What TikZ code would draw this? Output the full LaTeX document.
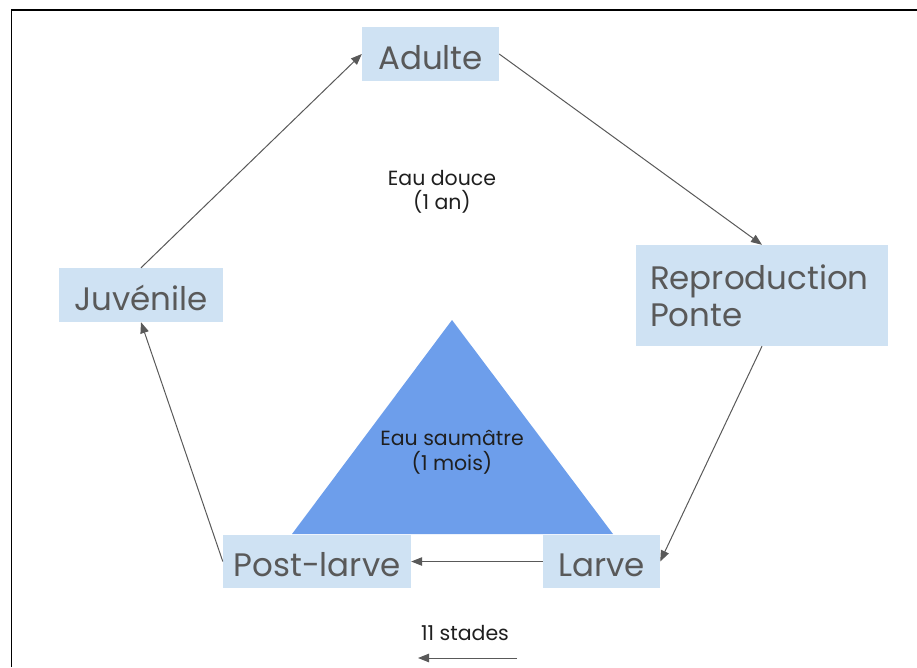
\documentclass[tikz,border=0pt]{standalone}
\usepackage{fontspec}
\setmainfont{Poppins}
\usetikzlibrary{arrows.meta}
\definecolor{boxfill}{HTML}{CFE2F3}
\definecolor{tri}{HTML}{6D9EEB}
\definecolor{txt}{HTML}{595959}
\definecolor{arr}{HTML}{595959}
\begin{document}
\begin{tikzpicture}[x=1pt,y=-1pt,
  stagebox/.style={fill=boxfill, draw=none, text=txt, font=\fontsize{32.5}{37}\selectfont, inner sep=0pt, anchor=center},
  oneline/.style={text height=30pt, text depth=0pt},
  conn/.style={draw=arr, line width=1pt, -{Triangle[length=11pt,width=8.5pt]}},
  note/.style={font=\fontsize{20.5}{24.5}\selectfont, text=black!88, align=center}]
\useasboundingbox (0,0) rectangle (917,667);
\draw[line width=1.5pt] (11.5,667) -- (11.5,10) -- (917,10);
% triangle
\path[fill=tri] (452,320) -- (292,534) -- (613,534) -- cycle;
\node[note] (sal) at (452,452) {Eau saumâtre\\(1 mois)};
\node[note] (douce) at (442,192) {Eau douce\\(1 an)};
% stages
\node[stagebox, oneline, minimum width=137pt, minimum height=54pt] (adulte) at (430.5,54) {Adulte};
\node[stagebox, minimum width=252pt, minimum height=101pt, text width=224pt, align=left] (repro) at (762,295.5) {Reproduction\\Ponte};
\node[stagebox, oneline, minimum width=164pt, minimum height=54pt] (juv) at (141,295) {Juvénile};
\node[stagebox, oneline, minimum width=188pt, minimum height=53pt] (post) at (317,561.5) {Post-larve};
\node[stagebox, oneline, minimum width=117pt, minimum height=53pt] (larve) at (601.5,561.5) {Larve};
% connectors
\draw[conn] (juv.north) -- (adulte.west);
\draw[conn] (adulte.east) -- (repro.north);
\draw[conn] (repro.south) -- (larve.east);
\draw[conn] (larve.west) -- (post.east);
\draw[conn] (post.west) -- (juv.south);
% legend
\node[note] (stades) at (465,633) {11 stades};
\coordinate (s1) at (517,658);
\coordinate (s2) at (418,658);
\draw[conn] (s1) -- (s2);
\end{tikzpicture}
\end{document}
